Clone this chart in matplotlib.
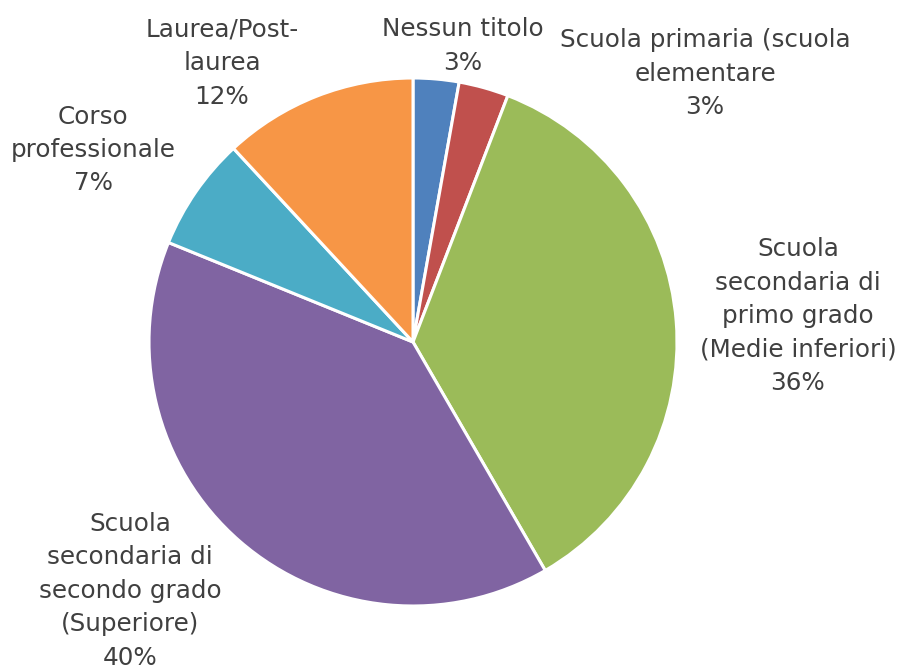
import matplotlib
matplotlib.use("Agg")
import matplotlib.pyplot as plt

categories = [
    "Nessun titolo",
    "Scuola primaria (scuola\nelementare",
    "Scuola\nsecondaria di\nprimo grado\n(Medie inferiori)",
    "Scuola\nsecondaria di\nsecondo grado\n(Superiore)",
    "Corso\nprofessionale",
    "Laurea/Post-\nlaurea",
]
values = [2.8, 3.05, 35.8, 39.5, 6.95, 11.9]
pct_labels = ["3%", "3%", "36%", "40%", "7%", "12%"]
colors = ["#4F81BD", "#C0504D", "#9BBB59", "#8064A2", "#4BACC6", "#F79646"]

# label positions in pixel coordinates (x, y from top)
label_pos = [(463, 46), (705, 74), (798, 316), (130, 591), (93, 150), (222, 63)]

W, H = 900, 669
fig = plt.figure(figsize=(W / 100, H / 100), dpi=100)
ax = fig.add_axes([0, 0, 1, 1])

ax.pie(values, colors=colors, startangle=90, counterclock=False,
       center=(413, H - 342), radius=264, frame=True,
       wedgeprops=dict(edgecolor="white", linewidth=2.2))
ax.set_xlim(0, W)
ax.set_ylim(0, H)
ax.set_aspect("equal")
ax.axis("off")

for cat, pct, (x, y) in zip(categories, pct_labels, label_pos):
    ax.text(x, H - y, cat + "\n" + pct, ha="center", va="center",
            fontsize=17.7, color="#404040", linespacing=1.5,
            family="DejaVu Sans")

fig.savefig("out.png", dpi=100)
